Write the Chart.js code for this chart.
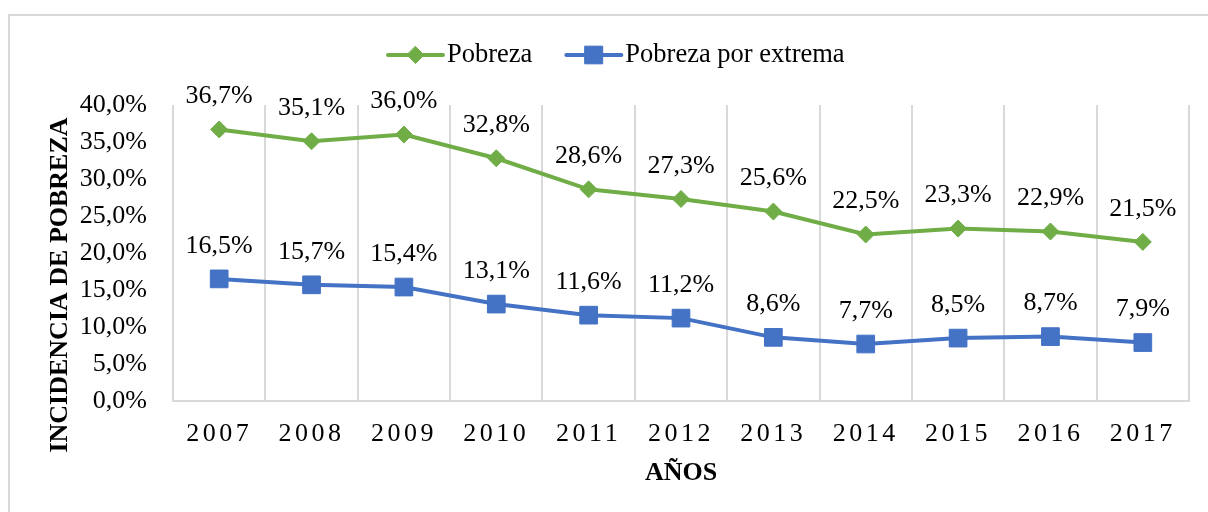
<!DOCTYPE html>
<html><head><meta charset="utf-8">
<script src="https://cdn.jsdelivr.net/npm/chart.js@4/dist/chart.umd.min.js"></script>
<style>
html,body{margin:0;padding:0;background:#fff;width:1208px;height:512px;overflow:hidden}
#frame{position:absolute;left:8px;top:14px;width:1300px;height:600px;border:2px solid #d9d9d9;box-sizing:border-box}
canvas{position:absolute;left:0;top:0}
</style></head>
<body><div id="frame"></div><canvas id="c" width="1208" height="512"></canvas>
<script>
const years = ['2007','2008','2009','2010','2011','2012','2013','2014','2015','2016','2017'];
const pobreza = [36.7, 35.1, 36.0, 32.8, 28.6, 27.3, 25.6, 22.5, 23.3, 22.9, 21.5];
const extrema = [16.5, 15.7, 15.4, 13.1, 11.6, 11.2, 8.6, 7.7, 8.5, 8.7, 7.9];
const seriesNames = ['Pobreza', 'Pobreza por extrema'];
const yMin = 0, yMax = 40, yStep = 5;
const xTitle = 'AÑOS';
const yTitle = 'INCIDENCIA DE POBREZA';

const SERIF = '"Liberation Serif","Times New Roman",serif';
const fmt = v => v.toFixed(1).replace('.', ',') + '%';

function drawMarker(ctx, style, x, y, r, color) {
  ctx.save();
  ctx.fillStyle = color; ctx.strokeStyle = color; ctx.lineWidth = 1;
  ctx.beginPath();
  if (style === 'rectRot') {
    ctx.moveTo(x, y - r); ctx.lineTo(x + r, y); ctx.lineTo(x, y + r); ctx.lineTo(x - r, y); ctx.closePath();
  } else {
    const s = r * Math.SQRT1_2;
    ctx.rect(x - s, y - s, 2 * s, 2 * s);
  }
  ctx.fill(); ctx.stroke();
  ctx.restore();
}

const customPlugin = {
  id: 'custom',
  afterLayout(chart) {
    const xs = chart.scales.x;
    if (xs && !xs._lsPatched) {
      const orig = xs.drawLabels;
      xs.drawLabels = function (a) {
        const ctx = this.ctx;
        ctx.save();
        ctx.letterSpacing = '3.5px';
        orig.call(this, a);
        ctx.restore();
      };
      xs._lsPatched = true;
    }
  },
  afterDatasetsDraw(chart) {
    const ctx = chart.ctx;
    ctx.save();
    ctx.font = '26px ' + SERIF;
    ctx.fillStyle = '#000';
    ctx.textAlign = 'center';
    ctx.textBaseline = 'middle';
    chart.data.datasets.forEach((ds, i) => {
      chart.getDatasetMeta(i).data.forEach((p, j) => {
        ctx.fillText(fmt(ds.data[j]), p.x, p.y - 33);
      });
    });
    ctx.restore();
  },
  afterDraw(chart) {
    const ctx = chart.ctx;
    // legend
    ctx.save();
    ctx.font = '26.5px ' + SERIF;
    ctx.textBaseline = 'middle';
    ctx.textAlign = 'left';
    let x = 388; const cy = 55;
    chart.data.datasets.forEach(ds => {
      ctx.strokeStyle = ds.borderColor; ctx.lineWidth = 4; ctx.lineCap = 'round';
      ctx.beginPath(); ctx.moveTo(x, cy); ctx.lineTo(x + 55, cy); ctx.stroke();
      drawMarker(ctx, ds.pointStyle, x + 27.5, cy, ds.pointRadius, ds.borderColor);
      ctx.fillStyle = '#000';
      ctx.fillText(ds.label, x + 59, cy);
      x += 59 + ctx.measureText(ds.label).width + 34;
    });
    ctx.restore();
    // y title
    ctx.save();
    ctx.translate(60, 285);
    ctx.rotate(-Math.PI / 2);
    ctx.font = 'bold 26px ' + SERIF;
    ctx.fillStyle = '#000';
    ctx.textAlign = 'center';
    ctx.textBaseline = 'middle';
    ctx.fillText(yTitle, 0, 0);
    ctx.restore();
  }
};

new Chart(document.getElementById('c'), {
  type: 'line',
  data: {
    labels: years,
    datasets: [
      { label: seriesNames[0], data: pobreza, borderColor: '#70AD47', backgroundColor: '#70AD47',
        borderWidth: 4, pointStyle: 'rectRot', pointRadius: 8.5, pointBorderWidth: 1, tension: 0 },
      { label: seriesNames[1], data: extrema, borderColor: '#4472C4', backgroundColor: '#4472C4',
        borderWidth: 4, pointStyle: 'rect', pointRadius: 12.5, pointBorderWidth: 1, tension: 0 }
    ]
  },
  options: {
    responsive: false,
    animation: false,
    layout: { padding: { top: 105, right: 19, bottom: 0, left: 0 } },
    plugins: { legend: { display: false }, tooltip: { enabled: false } },
    scales: {
      x: {
        offset: true,
        grid: { display: true, offset: true, color: '#d9d9d9', lineWidth: 2, drawTicks: false },
        border: { display: true, color: '#d9d9d9', width: 2 },
        ticks: { color: '#000', font: { family: SERIF, size: 26 }, padding: 18, maxRotation: 0, autoSkip: false },
        title: { display: true, text: xTitle, color: '#000', font: { family: SERIF, size: 26, weight: 'bold' }, padding: { top: 0, bottom: 23 } },
        afterFit: s => { s.height = 111; }
      },
      y: {
        min: yMin, max: yMax,
        grid: { display: false, drawTicks: false },
        border: { display: false },
        ticks: { stepSize: yStep, color: '#000', font: { family: SERIF, size: 26 }, padding: 26, callback: v => fmt(v) },
        afterFit: s => { s.width = 173; }
      }
    }
  },
  plugins: [customPlugin]
});
</script>
</body></html>
